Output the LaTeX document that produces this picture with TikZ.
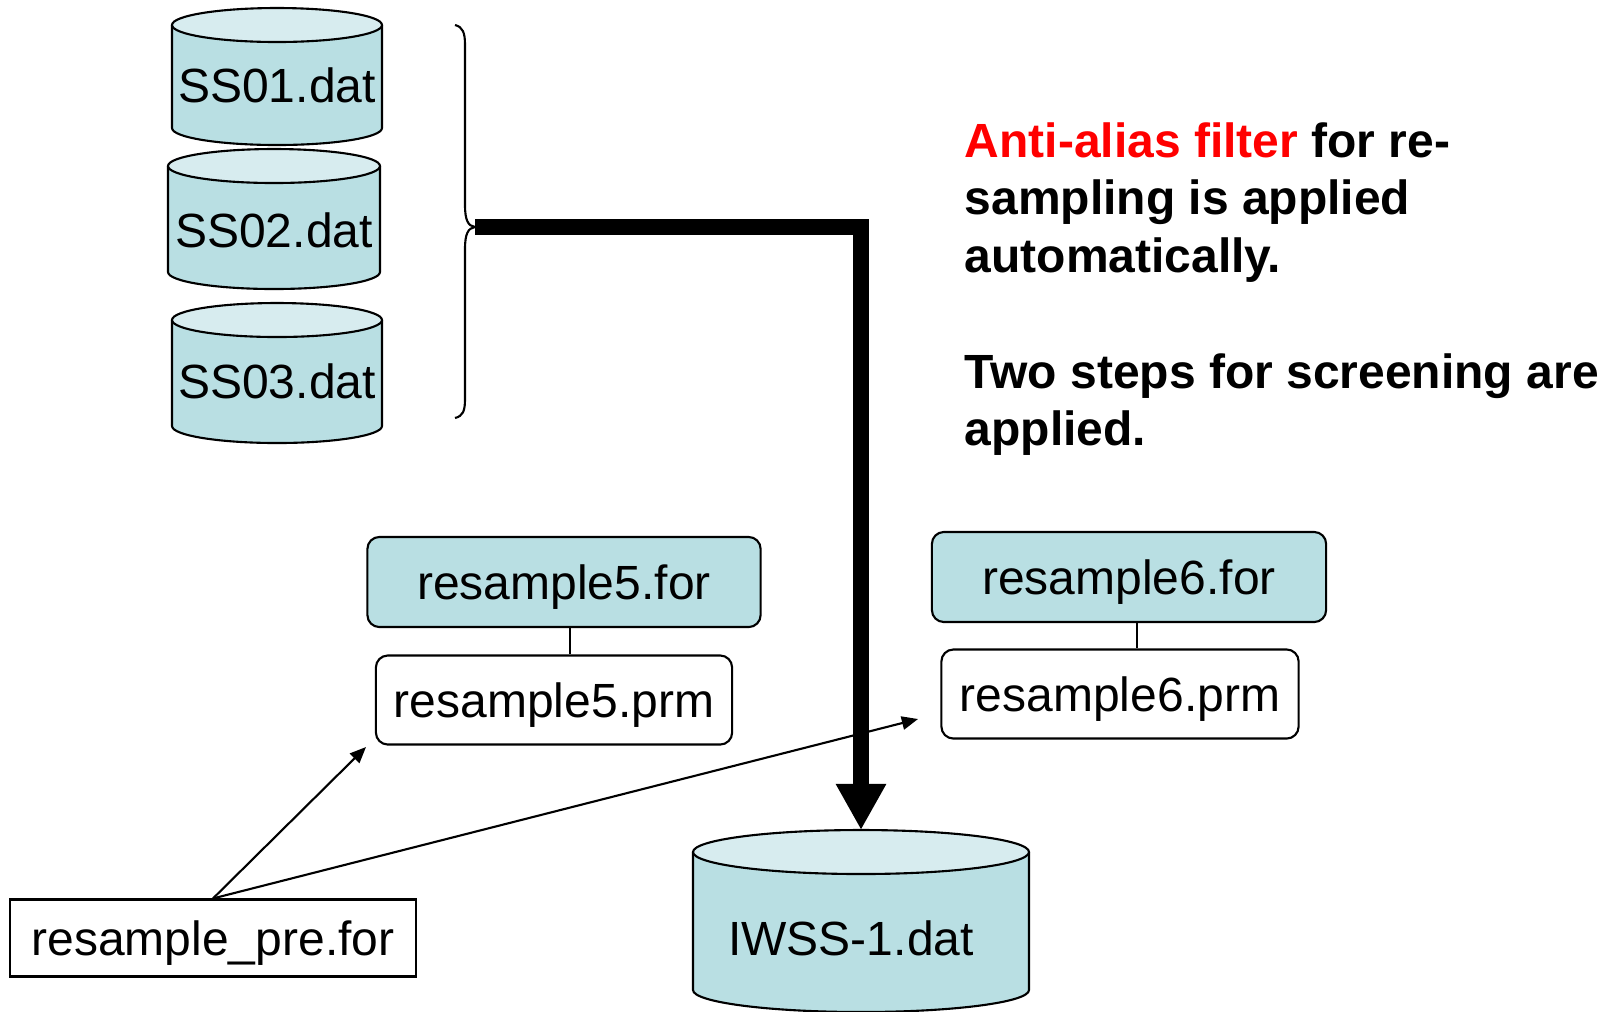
\documentclass[tikz,border=0pt]{standalone}
\usepackage{fontspec}
\setmainfont{Liberation Sans}
\usetikzlibrary{arrows.meta}
\definecolor{cylside}{HTML}{B9DFE3}
\definecolor{cyltop}{HTML}{D7ECEF}

% database drum: name, cx, y of top ellipse, y of bottom ellipse, rx, ry, label baseline, label
\newcommand\dbdrum[8]{%
  \fill[cylside] (#2-#5,#3) -- (#2-#5,#4)
    arc[start angle=180,end angle=0,x radius=#5,y radius=#6] -- (#2+#5,#3) -- cycle;
  \draw[edge] (#2-#5,#3) -- (#2-#5,#4)
    arc[start angle=180,end angle=0,x radius=#5,y radius=#6] -- (#2+#5,#3);
  \draw[edge,fill=cyltop] (#2,#3) ellipse[x radius=#5,y radius=#6];
  \path (#2,#3-#6) coordinate (#1-top) (#2,#4+#6) coordinate (#1-bottom);
  \node[label] (#1) at (#7) {#8};
}

\begin{document}
\begin{tikzpicture}[x=0.01cm,y=-0.01cm,
  edge/.style={line width=0.6pt,draw=black},
  label/.style={anchor=base,inner sep=0pt,font=\fontsize{13.65pt}{16pt}\selectfont},
  boxtext/.style={inner sep=0pt,text height=10pt,text depth=0pt,
    font=\fontsize{13.65pt}{16pt}\selectfont},
  progbox/.style={edge,boxtext,fill=cylside,rounded corners=3.4pt,minimum height=0.9cm},
  prmbox/.style={edge,boxtext,fill=white,rounded corners=3.4pt,minimum height=0.89cm},
  prebox/.style={edge,boxtext,fill=white,minimum height=0.77cm},
  thinarrow/.style={line width=0.6pt,-{Triangle[width=3.8pt,length=4.6pt]}},
  mainflow/.style={line width=4.55pt,-{Triangle[width=13.4pt,length=13.1pt]}},
  note/.style={anchor=north west,inner sep=0pt,align=left,
    font=\fontsize{13.65pt}{16.3pt}\selectfont\bfseries}
]
\useasboundingbox[fill=white] (0,0) rectangle (1604,1011);

% input data files
\dbdrum{ss01}{277}{25}{128}{105}{17}{277,102}{SS01.dat}
\dbdrum{ss02}{274}{166}{272}{106}{17}{274,247}{SS02.dat}
\dbdrum{ss03}{277}{320}{426}{105}{17}{277,398}{SS03.dat}

% output data file
\dbdrum{iwss}{861}{852}{990}{168}{22}{851,955}{IWSS-1.dat}

% brace grouping the inputs
\coordinate (bracetip) at (475,227);
\draw[edge] (455,25) .. controls (463,27) and (465,33) .. (465,45) -- (465,205)
  .. controls (465,220) and (468,226) .. (bracetip)
  .. controls (468,228) and (465,234) .. (465,249) -- (465,399)
  .. controls (465,411) and (463,416) .. (455,418);

% main data flow
\draw[mainflow] (bracetip) -| (iwss-top);

% programs and their parameter files
\node[progbox,minimum width=3.93cm] (r5for) at (564,582) {resample5.for};
\node[prmbox,minimum width=3.56cm] (r5prm) at (554,700) {resample5.prm};
\node[progbox,minimum width=3.94cm] (r6for) at (1129,577) {resample6.for};
\node[prmbox,minimum width=3.57cm] (r6prm) at (1120,694) {resample6.prm};
\draw[edge] ([xshift=0.06cm]r5for.south) -- ([xshift=0.06cm]r5for.south |- r5prm.north);
\draw[edge] ([xshift=0.08cm]r6for.south) -- ([xshift=0.08cm]r6for.south |- r6prm.north);

% preprocessing program
\node[prebox,minimum width=4.05cm] (pre) at (213,938) {resample\_pre.for};
\coordinate (to5) at (366,747);
\coordinate (to6) at (918,719);
\draw[thinarrow] (pre.north) -- (to5);
\draw[thinarrow] (pre.north) -- (to6);

% notes
\node[note] (note1) at (964,122) {\textcolor{red}{Anti-alias filter} for re-\\sampling is applied\\automatically.};
\node[note] (note2) at (964,353) {Two steps for screening are\\applied.};
\end{tikzpicture}
\end{document}
